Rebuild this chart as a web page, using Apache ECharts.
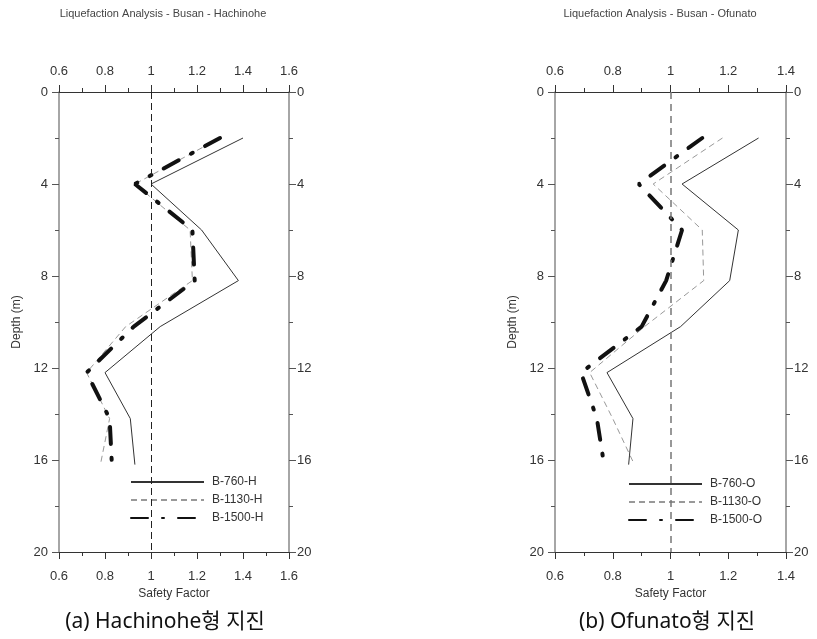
<!DOCTYPE html>
<html>
	<head>
		<meta charset="utf-8" />
		<title>Liquefaction Analysis - Busan</title>
		<script src="https://cdn.jsdelivr.net/npm/echarts@6.0.0/dist/echarts.min.js"></script>
		<style type="text/css">
			html,body{margin:0;padding:0;background:#fff;}
			#main{width:817px;height:639px;}
		</style>
	</head>
	<body>
		<div id="main"></div>
		<script type="text/javascript">
			// depth of each layer (m)
			var depth = [2, 4, 6, 8.2, 10.2, 12.2, 14.2, 16.2];
			// safety factor - Hachinohe
			var hB760 = [1.40, 1.00, 1.22, 1.38, 1.04, 0.80, 0.91, 0.93];
			var hB1130 = [1.30, 0.93, 1.17, 1.18, 0.89, 0.72, 0.82, 0.78];
			var hB1500 = [1.30, 0.93, 1.18, 1.19, 0.925, 0.72, 0.82, 0.83];
			// safety factor - Ofunato
			var oB760 = [1.305, 1.04, 1.235, 1.205, 1.035, 0.78, 0.87, 0.855];
			var oB1130 = [1.18, 0.94, 1.11, 1.115, 0.91, 0.72, 0.80, 0.875];
			var oB1500 = [1.11, 0.89, 1.04, 0.985, 0.90, 0.69, 0.745, 0.77];
			// axis ranges / ticks
			var hRange = [0.6, 1.6];
			var oRange = [0.6, 1.4];
			var sfStep = 0.2;
			var depthRange = [0, 20];
			var depthStep = 4;
			var refSF = 1;

			var font = 'Liberation Sans, Arial, sans-serif';

			function toPoints(vals){
				var pts = [];
				for (var i = 0; i < vals.length; i++) {
					pts.push([vals[i], depth[i]]);
				}
				return pts;
			}

			function xAx(grid, pos, range, name){
				return {
					type: 'value', gridIndex: grid, position: pos,
					min: range[0], max: range[1], interval: sfStep,
					name: name || '', nameLocation: 'middle', nameGap: 29,
					nameTextStyle: {fontFamily: font, fontSize: 12, color: '#333'},
					axisLine: {show: true, onZero: false, lineStyle: {color: '#333', width: 1}},
					axisTick: {show: true, inside: false, length: 7, lineStyle: {color: '#333'}},
					minorTick: {show: true, splitNumber: 2, length: 4, lineStyle: {color: '#333'}},
					axisLabel: {fontFamily: font, fontSize: 13, color: '#333', margin: pos == 'top' ? 14 : 18, showMinLabel: true, showMaxLabel: true, hideOverlap: false},
					splitLine: {show: false}
				};
			}
			function yAx(grid, pos, name){
				return {
					type: 'value', gridIndex: grid, position: pos, inverse: true,
					min: depthRange[0], max: depthRange[1], interval: depthStep,
					name: name || '', nameLocation: 'middle', nameGap: 36,
					nameTextStyle: {fontFamily: font, fontSize: 12, color: '#333'},
					axisLine: {show: true, onZero: false, lineStyle: {color: '#888', width: 1.5}},
					axisTick: {show: true, inside: false, length: 7, lineStyle: {color: '#555'}},
					minorTick: {show: true, splitNumber: 2, length: 4, lineStyle: {color: '#555'}},
					axisLabel: {fontFamily: font, fontSize: 13, color: '#333', margin: pos == 'right' ? 8 : 11, showMinLabel: true, showMaxLabel: true, hideOverlap: false},
					splitLine: {show: false}
				};
			}

			var solid = {color: '#333', width: 1, type: 'solid'};
			var dashed = {color: '#999', width: 1, type: [6, 4]};
			var thick = {color: '#111', width: 4, type: [17, 14, 2, 14], cap: 'round'};

			function lineSeries(name, vals, grid, style, ref){
				var s = {
					name: name, type: 'line', xAxisIndex: grid * 2, yAxisIndex: grid * 2,
					data: toPoints(vals), symbol: 'none', lineStyle: style,
					itemStyle: {color: style.color}, silent: true
				};
				if (ref) {
					s.markLine = {
						silent: true, symbol: 'none', label: {show: false},
						lineStyle: ref, data: [{xAxis: refSF}]
					};
				}
				return s;
			}

			function legendAt(names, x, y){
				return {
					data: names, orient: 'vertical', left: x, top: y, padding: 0,
					itemWidth: 73, itemHeight: 14, itemGap: 6, selectedMode: false,
					itemStyle: {opacity: 0},
					textStyle: {fontFamily: font, fontSize: 12, color: '#333', padding: [0, 0, 0, 3]}
				};
			}

			var myChart = echarts.init(document.getElementById('main'));
			var option = {
				animation: false,
				backgroundColor: '#fff',
				grid: [
					{left: 59, top: 92, width: 230, height: 460},
					{left: 555, top: 92, width: 231, height: 460}
				],
				xAxis: [
					xAx(0, 'bottom', hRange, 'Safety Factor'),
					xAx(0, 'top', hRange),
					xAx(1, 'bottom', oRange, 'Safety Factor'),
					xAx(1, 'top', oRange)
				],
				yAxis: [
					yAx(0, 'left', 'Depth (m)'),
					yAx(0, 'right'),
					yAx(1, 'left', 'Depth (m)'),
					yAx(1, 'right')
				],
				legend: [
					legendAt(['B-760-H', 'B-1130-H', 'B-1500-H'], 130, 476),
					legendAt(['B-760-O', 'B-1130-O', 'B-1500-O'], 628, 478)
				],
				graphic: [
					{type: 'text', x: 163, y: 14, style: {text: 'Liquefaction Analysis - Busan - Hachinohe', textAlign: 'center', textVerticalAlign: 'middle', font: '11px ' + font, fill: '#444'}},
					{type: 'text', x: 660, y: 14, style: {text: 'Liquefaction Analysis - Busan - Ofunato', textAlign: 'center', textVerticalAlign: 'middle', font: '11px ' + font, fill: '#444'}},
					{type: 'text', x: 165, y: 622, style: {text: '(a) Hachinohe형 지진', textAlign: 'center', textVerticalAlign: 'middle', font: '21px Noto Sans, Noto Sans CJK KR, sans-serif', fill: '#111'}},
					{type: 'text', x: 667, y: 622, style: {text: '(b) Ofunato형 지진', textAlign: 'center', textVerticalAlign: 'middle', font: '21px Noto Sans, Noto Sans CJK KR, sans-serif', fill: '#111'}}
				],
				series: [
					lineSeries('B-760-H', hB760, 0, solid, {color: '#222', width: 1, type: [7, 4]}),
					lineSeries('B-1130-H', hB1130, 0, dashed),
					lineSeries('B-1500-H', hB1500, 0, thick),
					lineSeries('B-760-O', oB760, 1, solid, {color: '#777', width: 1.5, type: [7, 5]}),
					lineSeries('B-1130-O', oB1130, 1, dashed),
					lineSeries('B-1500-O', oB1500, 1, thick)
				]
			};
			myChart.setOption(option);
		</script>
	</body>
</html>
